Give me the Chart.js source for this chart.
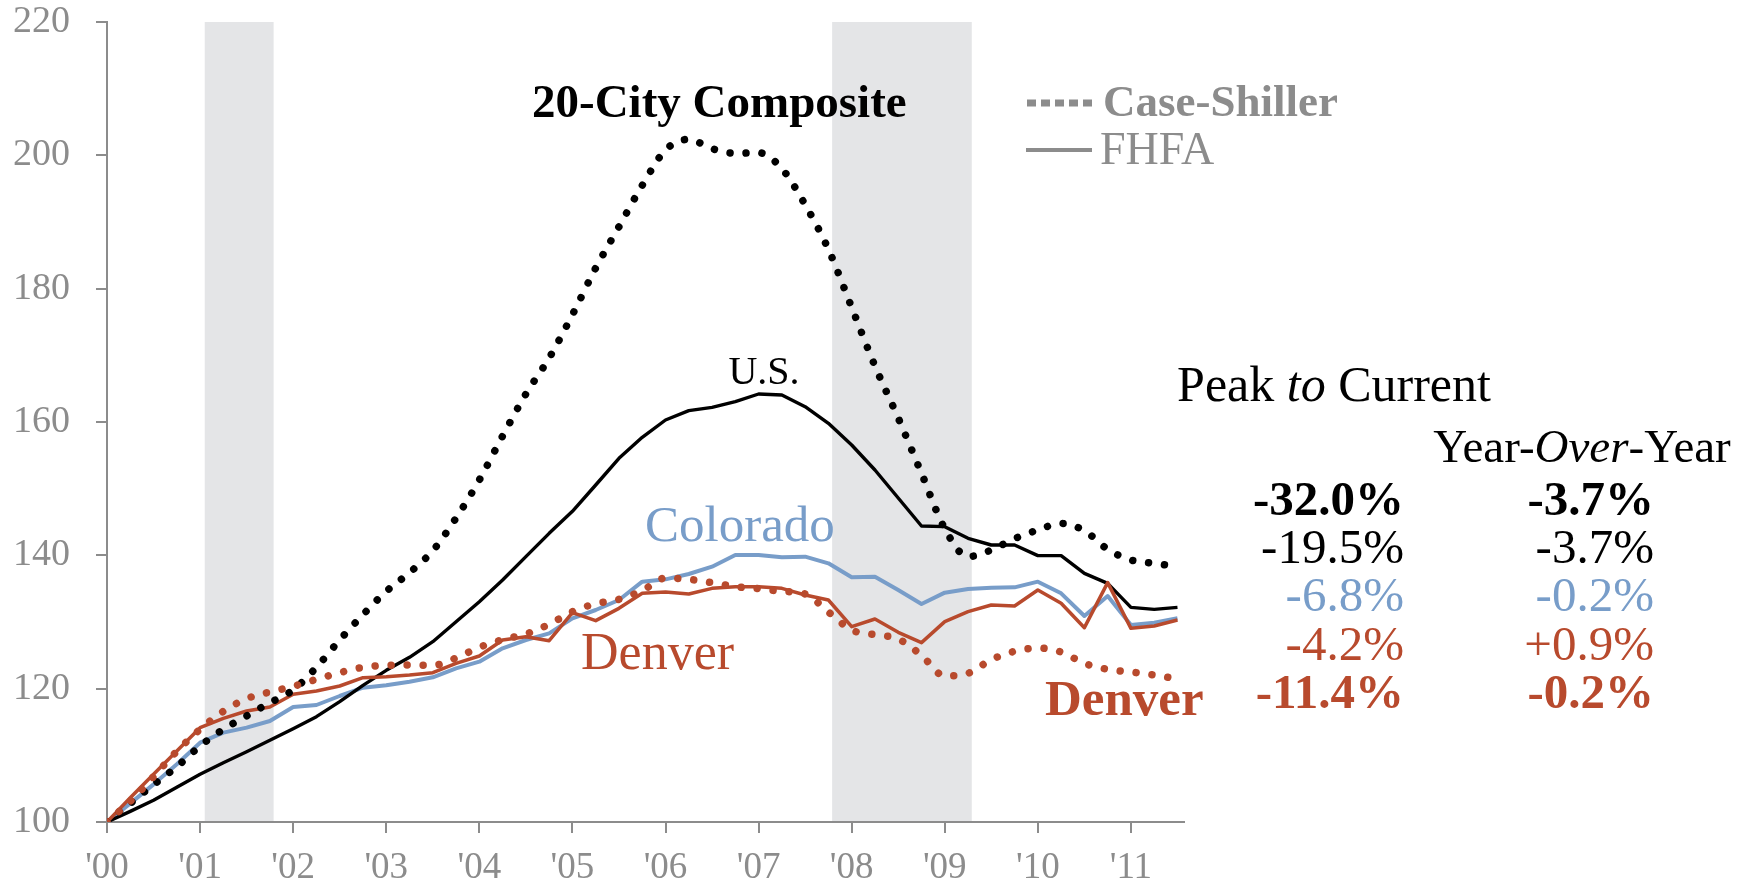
<!DOCTYPE html>
<html>
<head>
<meta charset="utf-8">
<script src="https://cdn.jsdelivr.net/npm/chart.js@4.4.0/dist/chart.umd.min.js"></script>
<style>
  html, body { margin: 0; padding: 0; background: #ffffff; }
  canvas { display: block; }
</style>
</head>
<body>
<canvas id="priceChart" width="1752" height="887"></canvas>
<script>
// Home price indexes, 2000 Q1 = 100, quarterly from 2000 Q1 to 2011 Q3
const startYear = 2000;
const csComposite20 = [100, 102.8, 105.6, 108.3, 111.4, 113.9, 115.9, 117.9, 119.8, 123.2, 127.3, 131.1,
  134.6, 137.4, 140.7, 145.6, 151.3, 157.9, 164.2, 169.6, 176.1, 183.1, 189.3, 195.5,
  200.8, 202.4, 201.0, 200.3, 200.4, 198.0, 192.6, 185.9, 177.2, 168.4, 160.6, 152.3,
  144.0, 139.8, 140.8, 142.5, 143.8, 144.8, 143.7, 140.9, 139.3, 138.8, 138.3];
const csDenver = [100, 103.1, 106.8, 110.6, 113.9, 116.6, 118.5, 119.5, 120.35, 121.4, 122.4, 123.2,
  123.5, 123.55, 123.5, 124.6, 126.2, 127.35, 128.2, 129.65, 131.55, 132.75, 133.4, 134.7,
  136.6, 136.4, 135.9, 135.3, 135.0, 134.6, 134.2, 131.5, 128.8, 128.1, 127.45, 125.0,
  121.9, 122.3, 124.35, 125.6, 126.1, 125.5, 123.8, 122.9, 122.5, 122.05, 121.45];
const fhfaUS = [100, 101.6, 103.25, 105.2, 107.15, 108.9, 110.55, 112.25, 114.0, 115.8, 118.05, 120.5,
  122.75, 124.7, 127.05, 130.05, 133.05, 136.3, 139.8, 143.3, 146.6, 150.55, 154.55, 157.7,
  160.3, 161.7, 162.2, 163.05, 164.2, 164.05, 162.3, 159.8, 156.55, 152.8, 148.6, 144.4,
  144.3, 142.55, 141.55, 141.55, 139.95, 139.95, 137.3, 135.8, 132.2, 131.9, 132.2];
const fhfaColorado = [100, 102.8, 105.65, 108.65, 111.9, 113.4, 114.15, 115.15, 117.25, 117.55, 118.9, 120.15,
  120.5, 121.05, 121.7, 123.05, 124.05, 126.05, 127.3, 128.3, 130.55, 131.8, 133.3, 136.05,
  136.4, 137.2, 138.3, 140.05, 140.05, 139.7, 139.8, 138.8, 136.7, 136.8, 134.8, 132.7,
  134.4, 134.95, 135.15, 135.2, 136.05, 134.3, 130.9, 133.9, 129.55, 129.9, 130.55];
const fhfaDenver = [100, 103.65, 107.15, 110.65, 114.15, 115.55, 116.65, 117.25, 119.15, 119.65, 120.4, 121.65,
  121.8, 122.05, 122.4, 123.8, 124.9, 127.3, 127.8, 127.2, 131.4, 130.2, 132.05, 134.3,
  134.5, 134.2, 135.05, 135.3, 135.3, 135.05, 134.05, 133.3, 129.3, 130.45, 128.45, 126.9,
  130.05, 131.55, 132.55, 132.4, 134.8, 132.8, 129.15, 135.9, 129.05, 129.4, 130.3];

// Recessions (fractional years)
const recessionStart = [2001.05, 2007.79];
const recessionEnd = [2001.79, 2009.29];

// Axis ticks
const xTicks = [2000, 2001, 2002, 2003, 2004, 2005, 2006, 2007, 2008, 2009, 2010, 2011];
const xTickLabels = ["'00", "'01", "'02", "'03", "'04", "'05", "'06", "'07", "'08", "'09", "'10", "'11"];
const yTicks = [100, 120, 140, 160, 180, 200, 220];

// Summary table
const peakToCurrent = ['-32.0%', '-19.5%', '-6.8%', '-4.2%', '-11.4%'];
const yearOverYear = ['-3.7%', '-3.7%', '-0.2%', '+0.9%', '-0.2%'];

const BLACK = '#000000';
const BLUE = '#789dc9';
const RED = '#b84a2d';
const GRAY = '#8c8c8c';
const SHADE = '#e4e5e7';
const SERIF = "'Liberation Serif', 'DejaVu Serif', serif";

const rowColors = [BLACK, BLACK, BLUE, RED, RED];
const rowBold = [true, false, false, false, true];

function toPoints(values) {
  return values.map((v, i) => ({ x: startYear + i / 4, y: v }));
}

function font(size, bold, italic) {
  return (italic ? 'italic ' : '') + (bold ? 'bold ' : '') + size + 'px ' + SERIF;
}

// draw text made of normal / italic runs, centred on cx
function drawRuns(ctx, runs, cx, baseline, size, color) {
  let total = 0;
  runs.forEach(r => {
    ctx.font = font(size, false, r.italic);
    r.w = ctx.measureText(r.text).width;
    total += r.w;
  });
  let x = cx - total / 2;
  ctx.fillStyle = color;
  ctx.textAlign = 'left';
  runs.forEach(r => {
    ctx.font = font(size, false, r.italic);
    ctx.fillText(r.text, x, baseline);
    x += r.w;
  });
}

const annotationPlugin = {
  id: 'annotations',
  beforeDatasetsDraw(chart) {
    const { ctx, chartArea, scales } = chart;
    ctx.save();
    ctx.fillStyle = SHADE;
    recessionStart.forEach((s, i) => {
      const x0 = scales.x.getPixelForValue(s);
      const x1 = scales.x.getPixelForValue(recessionEnd[i]);
      ctx.fillRect(x0, chartArea.top, x1 - x0, chartArea.bottom - chartArea.top - 1);
    });
    ctx.restore();
  },
  afterDraw(chart) {
    const ctx = chart.ctx;
    ctx.save();
    ctx.textBaseline = 'alphabetic';

    // series labels
    ctx.textAlign = 'left';
    ctx.fillStyle = BLACK;
    ctx.font = font(47, true);
    ctx.fillText('20-City Composite', 532, 117);

    ctx.textAlign = 'center';
    ctx.font = font(40);
    ctx.fillText('U.S.', 764, 384);

    ctx.textAlign = 'left';
    ctx.fillStyle = BLUE;
    ctx.font = font(51);
    ctx.fillText('Colorado', 645, 541);

    ctx.fillStyle = RED;
    ctx.font = font(52);
    ctx.fillText('Denver', 581, 669);
    ctx.font = font(51, true);
    ctx.fillText('Denver', 1045, 715);

    // legend
    ctx.fillStyle = GRAY;
    for (let i = 0; i < 5; i++) {
      ctx.fillRect(1027 + i * 14, 99.5, 9, 7);
    }
    ctx.font = font(45, true);
    ctx.fillText('Case-Shiller', 1103, 116);

    ctx.strokeStyle = GRAY;
    ctx.lineWidth = 4;
    ctx.beginPath();
    ctx.moveTo(1026, 150);
    ctx.lineTo(1092, 150);
    ctx.stroke();
    ctx.font = font(46);
    ctx.fillText('FHFA', 1100, 164);

    // table headings
    drawRuns(ctx, [{ text: 'Peak ' }, { text: 'to', italic: true }, { text: ' Current' }], 1334, 401, 50, BLACK);
    drawRuns(ctx, [{ text: 'Year-' }, { text: 'Over', italic: true }, { text: '-Year' }], 1582, 462, 47, BLACK);

    // table rows
    ctx.textAlign = 'right';
    peakToCurrent.forEach((txt, i) => {
      const y = 515 + i * 48.2;
      ctx.fillStyle = rowColors[i];
      ctx.font = font(49, rowBold[i]);
      ctx.fillText(txt, 1404, y);
      ctx.fillText(yearOverYear[i], 1654, y);
    });
    ctx.restore();
  }
};

const dotted = { borderDash: [0.01, 16], borderCapStyle: 'round', borderWidth: 7.5, cubicInterpolationMode: 'monotone' };

new Chart(document.getElementById('priceChart').getContext('2d'), {
  type: 'line',
  data: {
    datasets: [
      Object.assign({ label: 'Denver Case-Shiller', data: toPoints(csDenver), borderColor: RED, order: 0 }, dotted),
      Object.assign({ label: '20-City Composite', data: toPoints(csComposite20), borderColor: BLACK, order: 1 }, dotted),
      { label: 'Denver FHFA', data: toPoints(fhfaDenver), borderColor: RED, borderWidth: 3.5, order: 2 },
      { label: 'U.S. FHFA', data: toPoints(fhfaUS), borderColor: BLACK, borderWidth: 3.4, order: 3 },
      { label: 'Colorado FHFA', data: toPoints(fhfaColorado), borderColor: BLUE, borderWidth: 4, order: 4 }
    ]
  },
  options: {
    responsive: false,
    animation: false,
    layout: { padding: { left: 0, right: 568, top: 22, bottom: 0 } },
    elements: {
      point: { radius: 0 },
      line: { fill: false, tension: 0, borderJoinStyle: 'round' }
    },
    plugins: {
      legend: { display: false },
      tooltip: { enabled: false }
    },
    scales: {
      x: {
        type: 'linear',
        min: 2000,
        max: 2011.57,
        afterBuildTicks: scale => { scale.ticks = xTicks.map(v => ({ value: v })); },
        afterFit: scale => { scale.height = 65; },
        grid: { drawOnChartArea: false, drawTicks: true, tickLength: 11, color: GRAY, lineWidth: 2 },
        border: { display: true, color: GRAY, width: 2 },
        ticks: {
          color: GRAY,
          font: { family: SERIF, size: 37 },
          padding: 13,
          maxRotation: 0,
          autoSkip: false,
          callback: value => xTickLabels[xTicks.indexOf(value)]
        }
      },
      y: {
        min: 100,
        max: 220,
        afterBuildTicks: scale => { scale.ticks = yTicks.map(v => ({ value: v })); },
        afterFit: scale => {
          scale.width = 107;
          // keep the label padding from pushing the plot area down
          scale.paddingTop = 0;
          scale.paddingBottom = 0;
        },
        grid: { drawOnChartArea: false, drawTicks: true, tickLength: 11, color: GRAY, lineWidth: 2 },
        border: { display: true, color: GRAY, width: 2 },
        ticks: {
          color: GRAY,
          font: { family: SERIF, size: 38 },
          padding: 26
        }
      }
    }
  },
  plugins: [annotationPlugin]
});
</script>
</body>
</html>
